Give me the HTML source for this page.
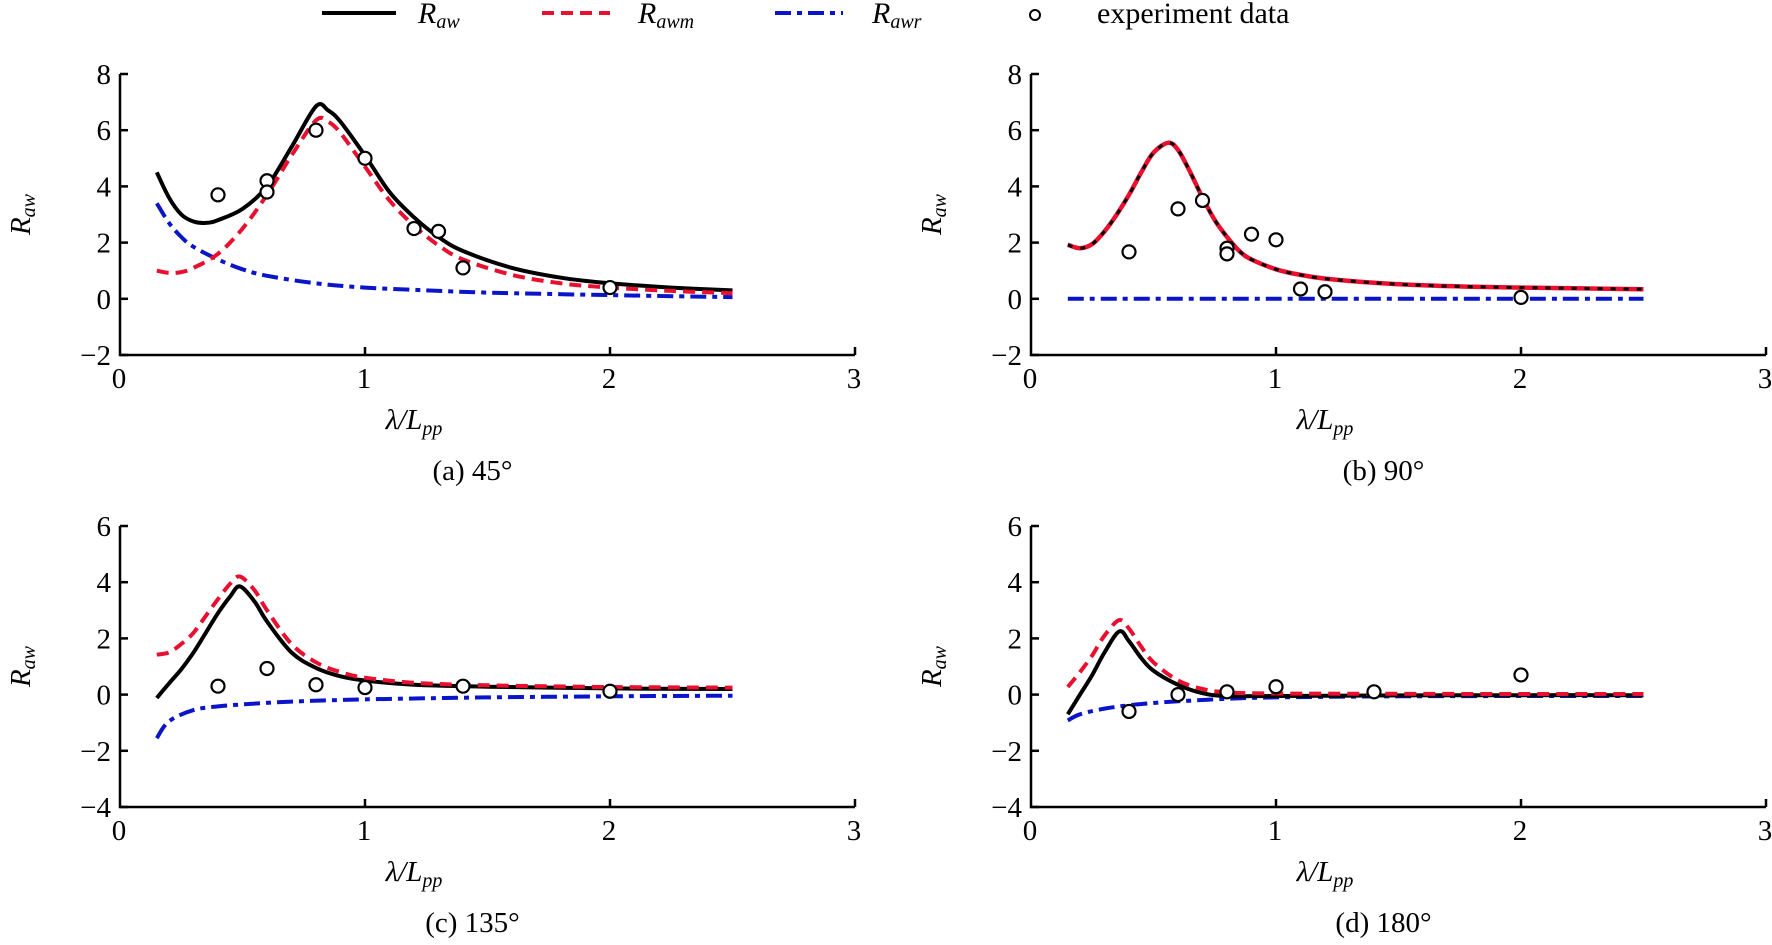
<!DOCTYPE html>
<html><head><meta charset="utf-8"><style>
body{margin:0;background:#fff;}
svg{display:block;font-family:"Liberation Serif",serif;}
</style></head><body>
<svg id="chart" width="1772" height="945" viewBox="0 0 1772 945">
<g id="legend">
 <g><line x1="322" y1="13" x2="396" y2="13" stroke="#000" stroke-width="4"/><text x="418" y="23" font-size="30" font-style="italic">R<tspan font-size="20" dy="5">aw</tspan></text></g>
 <g><line x1="542" y1="13" x2="610" y2="13" stroke="#e8102e" stroke-width="4" stroke-dasharray="12,7"/><text x="638" y="23" font-size="30" font-style="italic">R<tspan font-size="20" dy="5">awm</tspan></text></g>
 <g><line x1="775" y1="13" x2="843" y2="13" stroke="#0a14c8" stroke-width="4" stroke-dasharray="16,6,5,6"/><text x="872" y="23" font-size="30" font-style="italic">R<tspan font-size="20" dy="5">awr</tspan></text></g>
 <g><circle cx="1035" cy="15" r="5" fill="#fff" stroke="#000" stroke-width="2"/><text x="1097" y="23" font-size="30">experiment data</text></g>
</g>
</svg>
<script>
// ---- data ----
const xTicks = [0,1,2,3];
const yTicksTop = [-2,0,2,4,6,8];
const yTicksBottom = [-4,-2,0,2,4,6];
const captions = ["(a) 45°","(b) 90°","(c) 135°","(d) 180°"];

const aRawX  = [0.15,0.2,0.25,0.3,0.35,0.4,0.5,0.6,0.7,0.8,0.85,0.9,1.0,1.1,1.2,1.3,1.4,1.6,1.8,2.0,2.25,2.5];
const aRawY  = [4.5,3.6,3.0,2.75,2.7,2.8,3.2,4.0,5.4,6.85,6.7,6.3,5.1,3.8,2.9,2.2,1.7,1.1,0.75,0.55,0.4,0.3];
const aRawmX = [0.15,0.2,0.25,0.3,0.4,0.5,0.6,0.7,0.8,0.85,0.9,1.0,1.1,1.2,1.3,1.4,1.6,1.8,2.0,2.25,2.5];
const aRawmY = [1.0,0.92,0.95,1.1,1.6,2.5,3.7,5.1,6.35,6.3,5.9,4.7,3.5,2.6,1.9,1.4,0.85,0.55,0.4,0.28,0.2];
const aRawrX = [0.15,0.2,0.25,0.3,0.4,0.5,0.6,0.8,1.0,1.25,1.5,2.0,2.5];
const aRawrY = [3.4,2.7,2.2,1.85,1.4,1.05,0.82,0.55,0.4,0.3,0.22,0.13,0.06];
const aExpX  = [0.4,0.6,0.6,0.8,1.0,1.2,1.3,1.4,2.0];
const aExpY  = [3.7,4.2,3.8,6.0,5.0,2.5,2.4,1.1,0.4];

const bRawX  = [0.15,0.2,0.25,0.3,0.35,0.4,0.45,0.5,0.56,0.6,0.65,0.7,0.75,0.8,0.85,0.9,1.0,1.1,1.2,1.4,1.6,1.8,2.0,2.25,2.5];
const bRawY  = [1.92,1.8,1.95,2.4,3.0,3.7,4.5,5.2,5.55,5.3,4.5,3.6,2.8,2.2,1.7,1.4,1.05,0.85,0.72,0.57,0.48,0.43,0.4,0.37,0.34];
const bRawmY = [1.92,1.8,1.95,2.4,3.0,3.7,4.5,5.2,5.55,5.3,4.5,3.6,2.8,2.2,1.7,1.4,1.05,0.85,0.72,0.57,0.48,0.43,0.4,0.37,0.34];
const bRawrX = [0.15,2.5];
const bRawrY = [0,0];
const bExpX  = [0.4,0.6,0.7,0.8,0.8,0.9,1.0,1.1,1.2,2.0];
const bExpY  = [1.67,3.2,3.5,1.8,1.6,2.3,2.1,0.35,0.25,0.05];

const cRawX  = [0.15,0.2,0.25,0.3,0.35,0.4,0.45,0.49,0.55,0.6,0.7,0.8,0.9,1.0,1.2,1.5,2.0,2.5];
const cRawY  = [-0.12,0.4,0.9,1.5,2.2,2.9,3.5,3.85,3.3,2.6,1.5,0.95,0.65,0.5,0.35,0.28,0.22,0.2];
const cRawmY = [1.42,1.5,1.8,2.2,2.8,3.4,3.95,4.2,3.7,3.0,1.8,1.15,0.8,0.6,0.42,0.33,0.27,0.25];
const cRawrX = [0.15,0.2,0.3,0.4,0.5,0.7,1.0,1.5,2.0,2.5];
const cRawrY = [-1.55,-0.95,-0.55,-0.42,-0.35,-0.25,-0.17,-0.1,-0.06,-0.04];
const cExpX  = [0.4,0.6,0.8,1.0,1.4,2.0];
const cExpY  = [0.3,0.93,0.35,0.25,0.3,0.12];

const dRawX  = [0.15,0.2,0.25,0.3,0.36,0.4,0.45,0.5,0.6,0.7,0.8,1.0,1.5,2.0,2.5];
const dRawY  = [-0.7,0.0,0.7,1.5,2.25,1.9,1.3,0.85,0.35,0.05,-0.05,-0.05,-0.03,-0.02,-0.02];
const dRawmY = [0.27,0.8,1.4,2.1,2.65,2.35,1.7,1.15,0.5,0.2,0.08,0.04,0.03,0.02,0.02];
const dRawrX = [0.15,0.2,0.3,0.4,0.5,0.6,0.8,1.0,1.5,2.0,2.5];
const dRawrY = [-0.92,-0.7,-0.5,-0.38,-0.3,-0.24,-0.15,-0.1,-0.06,-0.05,-0.05];
const dExpX  = [0.4,0.6,0.8,1.0,1.4,2.0];
const dExpY  = [-0.6,0.0,0.1,0.28,0.1,0.7];

const NS="http://www.w3.org/2000/svg";
const svg=document.getElementById('chart');
function el(tag,attrs,parent){const e=document.createElementNS(NS,tag);for(const k in attrs)e.setAttribute(k,attrs[k]);(parent||svg).appendChild(e);return e;}
function smoothPath(xs,ys,sx,sy){
  const p=xs.map((x,i)=>[sx(x),sy(ys[i])]);
  let d='M'+p[0][0].toFixed(1)+','+p[0][1].toFixed(1);
  for(let i=0;i<p.length-1;i++){
    const p0=p[i-1]||p[i],p1=p[i],p2=p[i+1],p3=p[i+2]||p2;
    const c1=[p1[0]+(p2[0]-p0[0])/6,p1[1]+(p2[1]-p0[1])/6];
    const c2=[p2[0]-(p3[0]-p1[0])/6,p2[1]-(p3[1]-p1[1])/6];
    d+=' C'+c1[0].toFixed(1)+','+c1[1].toFixed(1)+' '+c2[0].toFixed(1)+','+c2[1].toFixed(1)+' '+p2[0].toFixed(1)+','+p2[1].toFixed(1);
  }
  return d;
}
function panel(key,x0,yAxisPix,yTicks,cap,raw,rawm,rawr,exp,overlayBlack){
  const unitX=245, unitY=28.1;
  const yMin=yTicks[0];
  const sx=v=>x0+v*unitX;
  const sy=v=>yAxisPix-(v-yMin)*unitY;
  const g=el('g',{});
  
  
  const yTop=sy(yTicks[yTicks.length-1]);
  const ax=el('path',{d:`M${x0},${yTop} V${yAxisPix} H${sx(3)}`,fill:'none',stroke:'#000','stroke-width':2.5},g);
  
  
  yTicks.forEach(t=>{
    el('line',{x1:x0,x2:x0+8,y1:sy(t),y2:sy(t),stroke:'#000','stroke-width':2.5},g);
    const tx=el('text',{x:x0-9,y:sy(t)+10,'font-size':29,'text-anchor':'end'},g);
    tx.textContent=t<0?'\u2212'+(-t):String(t);
    
    
  });
  xTicks.forEach(t=>{
    if(t>0) el('line',{x1:sx(t),x2:sx(t),y1:yAxisPix,y2:yAxisPix-8,stroke:'#000','stroke-width':2.5},g);
    const tx=el('text',{x:sx(t)-1,y:yAxisPix+33,'font-size':29,'text-anchor':'middle'},g);
    tx.textContent=String(t);
    
    
  });
  const yl=el('text',{x:0,y:0,'font-size':29,'font-style':'italic',transform:`translate(${x0-90},${sy((yTicks[0]+yTicks[5])/2)}) rotate(-90)`,'text-anchor':'middle'},g);
  yl.innerHTML='R<tspan font-size="20" dy="5">aw</tspan>';
  
  
  const xl=el('text',{x:sx(1.2),y:yAxisPix+74,'font-size':29,'font-style':'italic','text-anchor':'middle'},g);
  xl.innerHTML='λ/L<tspan font-size="20" dy="6">pp</tspan>';
  
  
  const cp=el('text',{x:sx(1.5)-15,y:yAxisPix+125,'font-size':29,'text-anchor':'middle'},g);
  cp.textContent=cap;
  
  
  const rr=el('path',{d:smoothPath(rawr[0],rawr[1],sx,sy),fill:'none',stroke:'#0a14c8','stroke-width':4,'stroke-dasharray':'16,6,5,6'},g);
  
  
  let rb,rm;
  if(overlayBlack){
    rm=el('path',{d:smoothPath(rawm[0],rawm[1],sx,sy),fill:'none',stroke:'#e8102e','stroke-width':4.5},g);
    rb=el('path',{d:smoothPath(raw[0],raw[1],sx,sy),fill:'none',stroke:'#000','stroke-width':3,'stroke-dasharray':'5,8'},g);
  } else {
    rb=el('path',{d:smoothPath(raw[0],raw[1],sx,sy),fill:'none',stroke:'#000','stroke-width':4},g);
    rm=el('path',{d:smoothPath(rawm[0],rawm[1],sx,sy),fill:'none',stroke:'#e8102e','stroke-width':4,'stroke-dasharray':'12,7'},g);
  }
  
  
  
  
  exp[0].forEach((x,i)=>{
    const c=el('circle',{cx:sx(x),cy:sy(exp[1][i]),r:6.5,fill:'#fff',stroke:'#000','stroke-width':2.2},g);
    
    
  });
}
panel('a',120,355,yTicksTop,captions[0],[aRawX,aRawY],[aRawmX,aRawmY],[aRawrX,aRawrY],[aExpX,aExpY],false);
panel('b',1031,355,yTicksTop,captions[1],[bRawX,bRawY],[bRawX,bRawmY],[bRawrX,bRawrY],[bExpX,bExpY],true);
panel('c',120,807,yTicksBottom,captions[2],[cRawX,cRawY],[cRawX,cRawmY],[cRawrX,cRawrY],[cExpX,cExpY],false);
panel('d',1031,807,yTicksBottom,captions[3],[dRawX,dRawY],[dRawX,dRawmY],[dRawrX,dRawrY],[dExpX,dExpY],false);
</script>
</body></html>
